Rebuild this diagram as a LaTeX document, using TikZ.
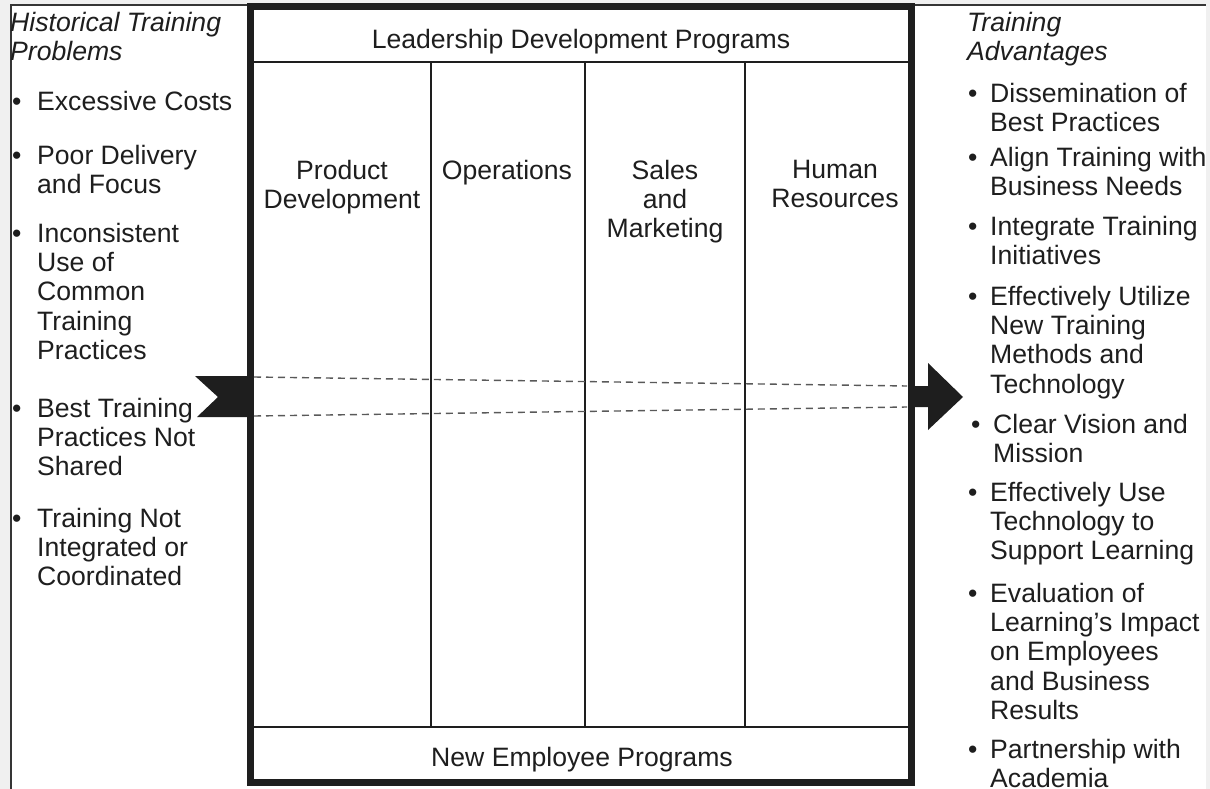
\documentclass[tikz,border=0pt]{standalone}
\usepackage{fontspec}
\setmainfont{Liberation Sans}
\definecolor{bggray}{HTML}{F0F0F0}
\definecolor{ink}{HTML}{1E1E1E}
\begin{document}
\begin{tikzpicture}[x=1pt,y=-1pt,
  txt/.style={font=\fontsize{26.6}{29.2}\selectfont, text=ink, inner sep=0pt, align=left, anchor=north west},
  bul/.style={font=\fontsize{26.6}{29.2}\selectfont, text=ink, inner sep=0pt, anchor=base west, yshift=-19.4pt},
  hdr/.style={txt, font=\fontsize{26.6}{29.2}\selectfont\itshape},
  ctr/.style={txt, align=center, anchor=north},
  frameline/.style={draw=ink!90, line width=1.8pt},
  thick box/.style={draw=ink, line width=7pt},
  thin rule/.style={draw=ink, line width=1.4pt},
  dashline/.style={draw=black!65, line width=1.4pt, dash pattern=on 7pt off 5pt},
  arrowfill/.style={fill=ink}
]
\useasboundingbox (0,0) rectangle (1210,789);
\fill[bggray] (0,0) rectangle (1210,789);
\fill[white] (11,5) rectangle (1206,789);
\draw[frameline] (11,789) -- (11,5) -- (1206,5);

% main box
\draw[thick box] (250,7) rectangle (911,782);
\draw[thin rule] (250,62) -- (911,62);
\draw[thin rule] (250,727) -- (911,727);
\draw[thin rule] (431,62) -- (431,727);
\draw[thin rule] (585,62) -- (585,727);
\draw[thin rule] (745,62) -- (745,727);

% arrows
\fill[arrowfill] (195,376) -- (251,376) -- (251,417) -- (197,417) -- (218,397) -- cycle;
\fill[arrowfill] (910,386) -- (928,386) -- (928,363) -- (963,397) -- (928,430) -- (928,407) -- (910,407) -- cycle;
\coordinate (la) at (254,377);
\coordinate (lb) at (254,416);
\coordinate (ra) at (907,386);
\coordinate (rb) at (907,407);
\draw[dashline] (la) -- (ra);
\draw[dashline] (lb) -- (rb);

% centre texts
\node[ctr] (ldp) at (581,29) {Leadership Development Programs};
\node[ctr] (c1) at (342,160) {Product\\Development};
\node[ctr] (c2) at (507,160) {Operations};
\node[ctr] (c3) at (665,160) {Sales\\and\\Marketing};
\node[ctr] (c4) at (835,160) {Human\\Resources};
\node[ctr] (nep) at (582,747) {New Employee Programs};

% left column
\node[hdr] (lh) at (10,12) {Historical Training\\Problems};
\node[bul] (lb1) at (12,91) {•};  \node[txt] (lt1) at (37,91) {Excessive Costs};
\node[bul] (lb2) at (12,145) {•}; \node[txt] (lt2) at (37,145) {Poor Delivery\\and Focus};
\node[bul] (lb3) at (12,223) {•}; \node[txt] (lt3) at (37,223) {Inconsistent\\Use of\\Common\\Training\\Practices};
\node[bul] (lb4) at (12,398) {•}; \node[txt] (lt4) at (37,398) {Best Training\\Practices Not\\Shared};
\node[bul] (lb5) at (12,508) {•}; \node[txt] (lt5) at (37,508) {Training Not\\Integrated or\\Coordinated};

% right column
\node[hdr] (rh) at (967,12) {Training\\Advantages};
\node[bul] (rb1) at (968,83) {•};  \node[txt] (rt1) at (990,83) {Dissemination of\\Best Practices};
\node[bul] (rb2) at (968,147) {•}; \node[txt] (rt2) at (990,147) {Align Training with\\Business Needs};
\node[bul] (rb3) at (968,216) {•}; \node[txt] (rt3) at (990,216) {Integrate Training\\Initiatives};
\node[bul] (rb4) at (968,286) {•}; \node[txt] (rt4) at (990,286) {Effectively Utilize\\New Training\\Methods and\\Technology};
\node[bul] (rb5) at (971,414) {•}; \node[txt] (rt5) at (993,414) {Clear Vision and\\Mission};
\node[bul] (rb6) at (968,482) {•}; \node[txt] (rt6) at (990,482) {Effectively Use\\Technology to\\Support Learning};
\node[bul] (rb7) at (968,583) {•}; \node[txt] (rt7) at (990,583) {Evaluation of\\Learning’s Impact\\on Employees\\and Business\\Results};
\node[bul] (rb8) at (968,739) {•}; \node[txt] (rt8) at (990,739) {Partnership with\\Academia};
\end{tikzpicture}
\end{document}
